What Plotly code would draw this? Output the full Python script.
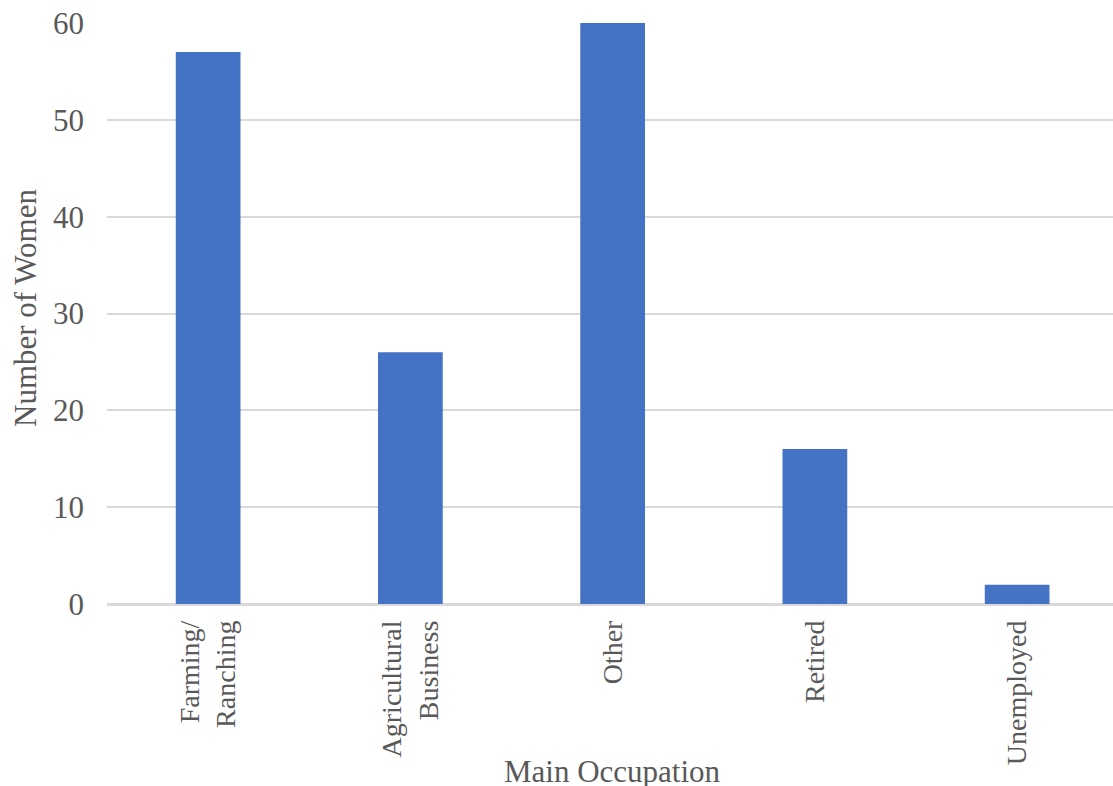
import plotly.graph_objects as go

categories = ["Farming/<br>Ranching", "Agricultural<br>Business", "Other", "Retired", "Unemployed"]
values = [57, 26, 60, 16, 2]
y_ticks = [0, 10, 20, 30, 40, 50, 60]

FONT = "Liberation Serif, Times New Roman, serif"
TEXT = "#595959"

fig = go.Figure(go.Bar(x=categories, y=values, marker=dict(color="#4472C4", line=dict(width=0))))

fig.update_layout(
    width=1113, height=786,
    margin=dict(l=107, r=0, t=23, b=182),
    paper_bgcolor="white", plot_bgcolor="white",
    bargap=0.68,
    showlegend=False,
    font=dict(family=FONT, color=TEXT),
)
fig.update_xaxes(
    range=[-0.5, 4.474],
    tickangle=-90, tickfont=dict(size=28, family=FONT, color=TEXT),
    showgrid=False, showline=False, ticks="", ticklabelstandoff=10,
    automargin=False,
)
fig.update_yaxes(
    range=[0, 60], tickvals=y_ticks, tickfont=dict(size=31, family=FONT, color=TEXT),
    showgrid=True, gridcolor="#D9D9D9", gridwidth=1.5,
    zeroline=True, zerolinecolor="#D9D9D9", zerolinewidth=2.5,
    showline=False, ticks="", ticklabelstandoff=22, automargin=False,
)
fig.add_annotation(text="Main Occupation", xref="paper", yref="paper", x=(612-107)/1006, y=-(771-604)/581,
                   showarrow=False, font=dict(size=31, family=FONT, color=TEXT), yanchor="middle")
fig.add_annotation(text="Number of Women", xref="paper", yref="paper", x=-(107-25)/1006, y=(604-308)/581,
                   showarrow=False, textangle=-90, font=dict(size=31, family=FONT, color=TEXT),
                   xanchor="center", yanchor="middle")

fig.write_html("out.html")
